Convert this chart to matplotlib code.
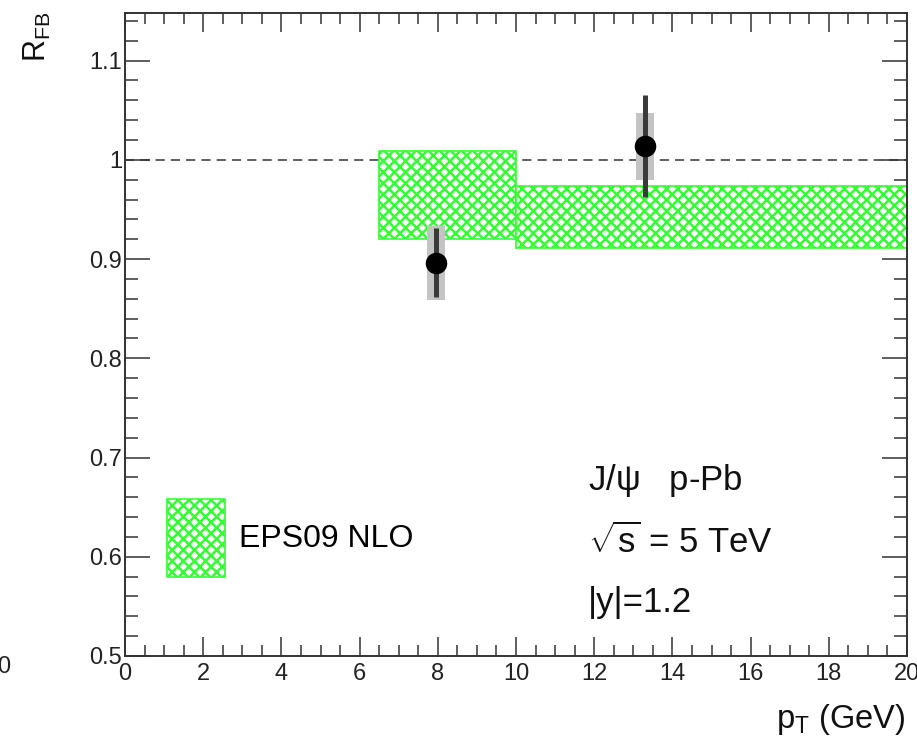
import matplotlib
matplotlib.use("Agg")
import matplotlib.pyplot as plt
from matplotlib.ticker import MultipleLocator, FuncFormatter

plt.rcParams['font.family'] = ['Liberation Sans', 'DejaVu Sans']
plt.rcParams['mathtext.fontset'] = 'custom'
plt.rcParams['mathtext.rm'] = 'Liberation Sans'
plt.rcParams['mathtext.it'] = 'Liberation Sans'
plt.rcParams['mathtext.default'] = 'regular'
plt.rcParams['hatch.linewidth'] = 1.8

# ---- data ----
theory_xlow = [6.5, 10.0]
theory_xhigh = [10.0, 20.0]
theory_low = [0.920, 0.911]
theory_high = [1.009, 0.974]

pt = [7.95, 13.3]
rfb = [0.896, 1.0135]
stat_lo = [0.034, 0.051]
stat_hi = [0.035, 0.052]
syst = [0.0375, 0.034]

legend_label = "EPS09 NLO"
info_lines = [r"J/$\psi$   p-Pb", r"$\sqrt{s}$ = 5 TeV", "|y|=1.2"]

W, H = 917, 747
fig = plt.figure(figsize=(W / 100, H / 100), dpi=100)
ax = fig.add_axes([125 / W, 1 - 656 / H, (907 - 125) / W, (656 - 13) / H])

green = '#33ff33'
frame = '#333333'

# theory bands
bars = ax.bar(theory_xlow,
              [h - l for h, l in zip(theory_high, theory_low)],
              width=[b - a for a, b in zip(theory_xlow, theory_xhigh)],
              bottom=theory_low, align='edge', facecolor='white',
              edgecolor=green, hatch='xxx', linewidth=1.2, zorder=2,
              label=legend_label)

# reference line
ax.axhline(1.0, color=frame, ls=(0, (6, 4)), lw=1.1, zorder=1)

# systematic boxes
ax.bar(pt, [2 * s for s in syst], width=0.45,
       bottom=[y - s for y, s in zip(rfb, syst)],
       color='#c4c4c4', edgecolor='none', zorder=3)

# data points with stat errors
ax.errorbar(pt, rfb, yerr=[stat_lo, stat_hi], fmt='o', color='black',
            ecolor='#3a3a3a', elinewidth=3.6, capsize=0, ms=14.5, zorder=4)

ax.set_xlim(0, 20)
ax.set_ylim(0.5, 1.148)

ax.xaxis.set_major_locator(MultipleLocator(2))
ax.xaxis.set_minor_locator(MultipleLocator(0.5))
ax.yaxis.set_major_locator(MultipleLocator(0.1))
ax.yaxis.set_minor_locator(MultipleLocator(0.02))
ax.yaxis.set_major_formatter(FuncFormatter(lambda v, p: f"{v:g}"))

ax.tick_params(axis='x', which='major', direction='in', length=13.5, width=1.1,
               top=True, bottom=True, color=frame, labelsize=17, pad=5,
               labelcolor='#222222')
ax.tick_params(axis='x', which='minor', direction='in', length=8, width=1.1,
               top=True, bottom=True, color=frame)
ax.tick_params(axis='y', which='major', direction='in', length=18, width=1.1,
               left=True, right=True, color=frame, labelsize=17, pad=2,
               labelcolor='#222222')
ax.tick_params(axis='y', which='minor', direction='in', length=9.5, width=1.1,
               left=True, right=True, color=frame)
for s in ax.spines.values():
    s.set_color(frame)
    s.set_linewidth(1.4)

# legend
ax.legend(loc='center left', bbox_to_anchor=((167 - 125) / 782, (656 - 538) / 643),
          frameon=False, fontsize=23, handlelength=1.8, handleheight=3.35,
          handletextpad=0.45, borderpad=0, borderaxespad=0)

# info text
ys = [490, 553, 612]
for txt, yb in zip(info_lines, ys):
    fig.text(588 / W, 1 - yb / H, txt, fontsize=25, ha='left', va='baseline',
             color='#111111')

# axis labels
fig.text(905 / W, 1 - 728 / H, r"p$_{T}$ (GeV)", fontsize=23.5, ha='right',
         va='baseline', color='#111111')
fig.text(37 / W, 1 - 12 / H, r"R$_{FB}$", fontsize=22, rotation=90,
         ha='center', va='top', color='#111111')

# cropped neighbour label at left edge
fig.text(4 / W, 1 - 667 / H, "0", fontsize=17, ha='center', va='center',
         color='#222222')

fig.savefig("out.png", dpi=100)
